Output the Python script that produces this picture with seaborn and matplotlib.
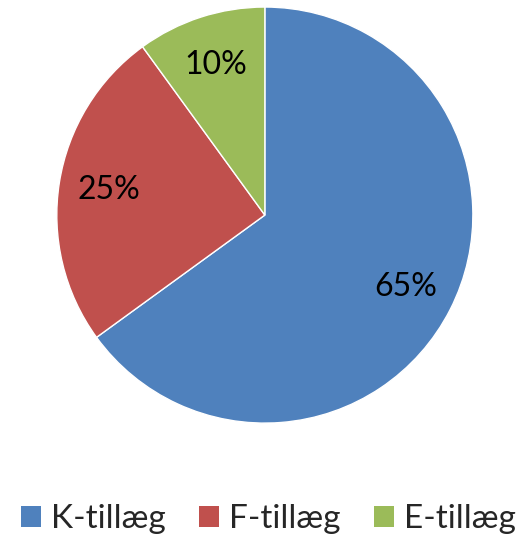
import matplotlib
matplotlib.use("Agg")
import matplotlib.pyplot as plt
import seaborn as sns
from matplotlib.patches import Patch

categories = ["K-tillæg", "F-tillæg", "E-tillæg"]
values = [65, 25, 10]
colors = ["#4F81BD", "#C0504D", "#9BBB59"]

sns.set_theme(style="white")
plt.rcParams['font.family'] = ['Lato', 'DejaVu Sans']

fig = plt.figure(figsize=(5.26, 5.35), dpi=100)
ax = fig.add_axes([0.108, 0.209, 0.791, 0.778])
wedges, texts, autotexts = ax.pie(
    values, colors=colors, startangle=90, counterclock=False,
    autopct=lambda p: f"{p:.0f}%", pctdistance=0.76,
    wedgeprops=dict(edgecolor="white", linewidth=1),
    textprops=dict(fontsize=23, color="black"), radius=1.0)
ax.set_aspect("equal")
ax.set_xlim(-1, 1)
ax.set_ylim(-1, 1)

handles = [Patch(facecolor=c, edgecolor="none") for c in colors]
fig.legend(handles, categories, loc="center", bbox_to_anchor=(0.51, 0.03),
           ncol=3, frameon=False, fontsize=24, handlelength=0.6, handleheight=0.6,
           handletextpad=0.3, columnspacing=1.0, borderpad=0, borderaxespad=0)

fig.savefig("out.png", dpi=100)
